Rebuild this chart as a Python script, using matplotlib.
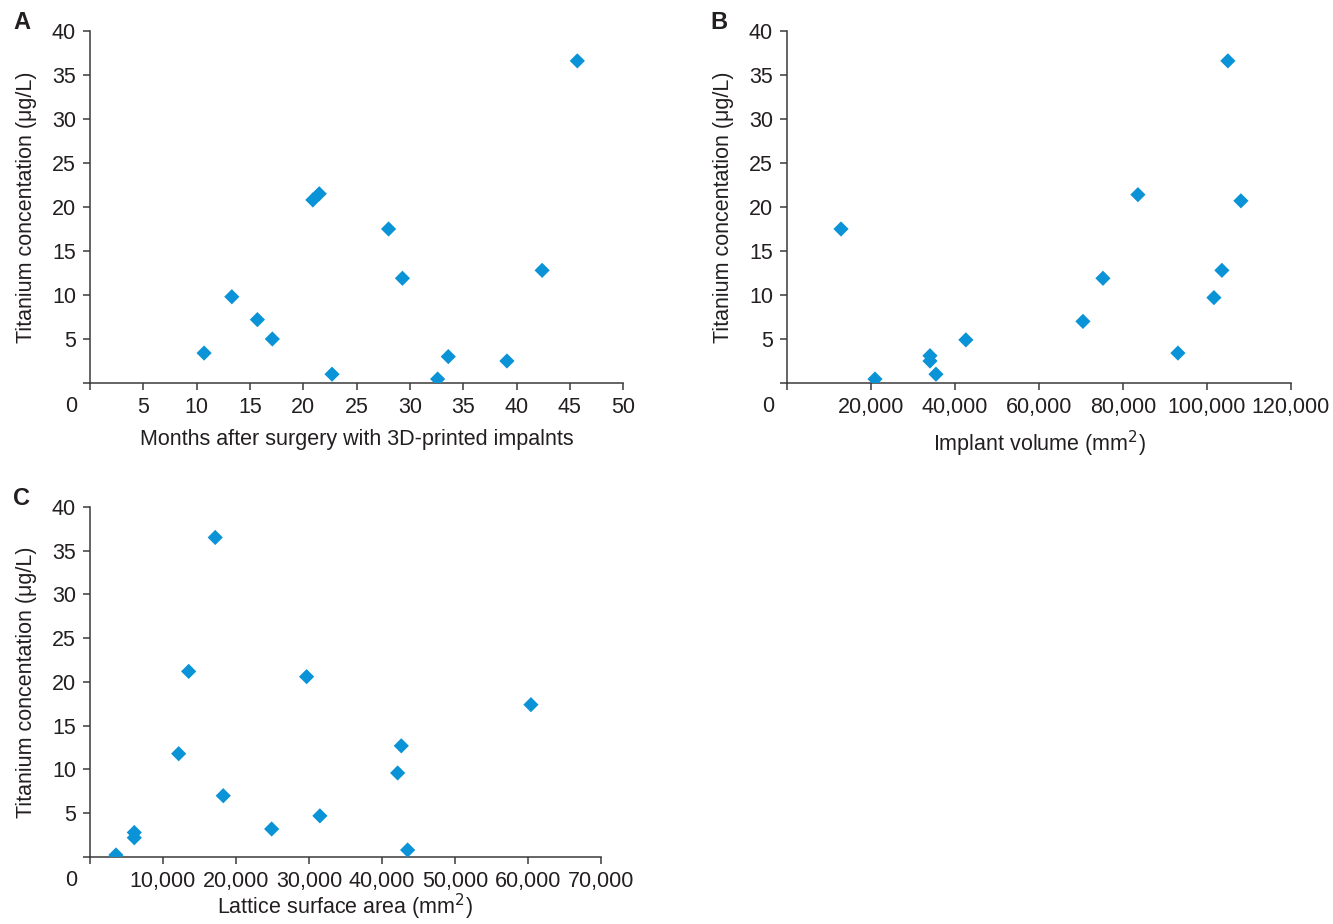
import matplotlib
matplotlib.use("Agg")
import matplotlib.pyplot as plt
from matplotlib.ticker import FuncFormatter

plt.rcParams["font.family"] = ["Liberation Sans", "DejaVu Sans"]

# ---------------------------------------------------------------------------
# Data
# ---------------------------------------------------------------------------
months = [10.7, 13.3, 15.7, 17.1, 20.9, 21.5, 22.7, 28.0, 29.3, 32.6, 33.6, 39.1, 42.4, 45.7]
ti_months = [3.4, 9.8, 7.2, 5.0, 20.8, 21.5, 1.0, 17.5, 11.9, 0.45, 3.0, 2.5, 12.8, 36.6]

volume = [12860, 20950, 34050, 34050, 35480, 42600, 70480, 75240, 83570,
          93100, 101670, 103570, 105000, 108100]
ti_volume = [17.5, 0.45, 3.1, 2.5, 1.0, 4.9, 7.0, 11.9, 21.4, 3.4, 9.7, 12.8, 36.6, 20.7]

lattice = [3560, 6070, 6070, 12150, 13520, 17160, 18260, 24890, 29680, 31500,
           42150, 42650, 43520, 60410]
ti_lattice = [0.23, 2.8, 2.2, 11.8, 21.2, 36.5, 7.0, 3.2, 20.6, 4.7, 9.6, 12.7, 0.8, 17.4]

Y_TICKS = [0, 5, 10, 15, 20, 25, 30, 35, 40]
Y_LABEL = "Titanium concentation (μg/L)"

PANELS = [
    ("A", months, ti_months, list(range(0, 51, 5)),
     "Months after surgery with 3D-printed impalnts", [0.0675, 0.5855, 0.40, 0.381], 8),
    ("B", volume, ti_volume, list(range(0, 120001, 20000)),
     "Implant volume (mm$^2$)", [0.5904, 0.5855, 0.378, 0.381], 8),
    ("C", lattice, ti_lattice, list(range(0, 70001, 10000)),
     "Lattice surface area (mm$^2$)", [0.0675, 0.0725, 0.3833, 0.379], 0),
]

MARKER = "#0a93d6"
AXCOL = "#3a3a3a"
TXT = "#231f20"
FS = 15.5


def _fmt(v, pos):
    if v == 0:
        return ""
    return f"{int(v):,}"


fig = plt.figure(figsize=(13.33, 9.24), dpi=100)

for letter, xs, ys, xticks, xlabel, rect, xpad in PANELS:
    ax = fig.add_axes(rect)
    ax.scatter(xs, ys, marker="D", s=60, color=MARKER, edgecolors="none", zorder=3)
    ax.set_xlim(xticks[0], xticks[-1])
    ax.set_ylim(0, 40)
    ax.set_xticks(xticks)
    ax.set_yticks(Y_TICKS)
    ax.xaxis.set_major_formatter(FuncFormatter(_fmt))
    ax.yaxis.set_major_formatter(FuncFormatter(_fmt))
    ax.spines[["top", "right"]].set_visible(False)
    for sp in ("left", "bottom"):
        ax.spines[sp].set_color(AXCOL)
        ax.spines[sp].set_linewidth(1.1)
    ax.tick_params(direction="out", length=5, width=1.1, color=AXCOL,
                   labelsize=FS, labelcolor=TXT, pad=5)
    ax.set_xlabel(xlabel, fontsize=FS, color=TXT, labelpad=xpad)
    ax.set_ylabel(Y_LABEL, fontsize=FS, color=TXT, labelpad=11)
    # shared origin label
    ax.annotate("0", xy=(0, 0), xycoords="axes fraction", xytext=(-9, -17),
                textcoords="offset points", ha="right", va="center",
                fontsize=FS, color=TXT)
    ax.annotate(letter, xy=(0, 1), xycoords="axes fraction", xytext=(-49, 6),
                textcoords="offset points", ha="center", va="center",
                fontsize=17, fontweight="bold", color=TXT)

fig.savefig("out.png", dpi=100)
